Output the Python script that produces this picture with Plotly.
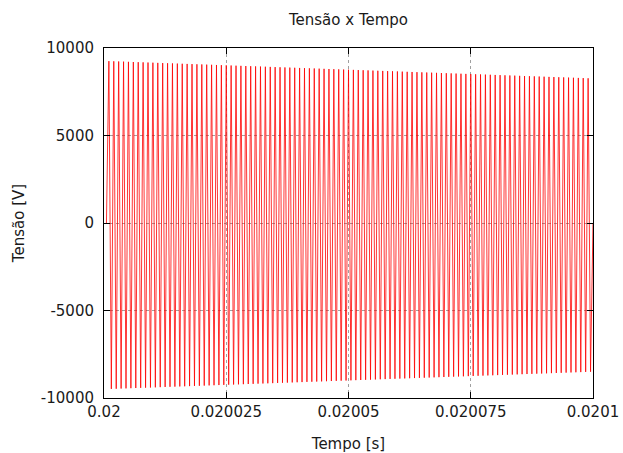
import plotly.graph_objects as go

# Sampled signal: start at t0, one sample every half microsecond
t0 = 0.0200005
dt = 0.5e-6

picos = [9250, 9240, 9230, 9220, 9210, 9200, 9190, 9180, 9170, 9160,
         9150, 9140, 9130, 9120, 9110, 9100, 9090, 9080, 9070, 9060,
         9050, 9040, 9030, 9020, 9010, 9000, 8990, 8980, 8970, 8960,
         8950, 8940, 8930, 8920, 8910, 8900, 8890, 8880, 8870, 8860,
         8850, 8840, 8830, 8820, 8810, 8800, 8790, 8780, 8770, 8760,
         8750, 8740, 8730, 8720, 8710, 8700, 8690, 8680, 8670, 8660,
         8650, 8640, 8630, 8620, 8610, 8600, 8590, 8580, 8570, 8560,
         8550, 8540, 8530, 8520, 8510, 8500, 8490, 8480, 8470, 8460,
         8450, 8440, 8430, 8420, 8410, 8400, 8390, 8380, 8370, 8360,
         8350, 8340, 8330, 8320, 8310, 8300, 8290, 8280, 8270]

vales = [-9480, -9470, -9460, -9450, -9440, -9430, -9420, -9410, -9400, -9390,
         -9380, -9370, -9360, -9350, -9340, -9330, -9320, -9310, -9300, -9290,
         -9280, -9270, -9260, -9250, -9240, -9230, -9220, -9210, -9200, -9190,
         -9180, -9170, -9160, -9150, -9140, -9130, -9120, -9110, -9100, -9090,
         -9080, -9070, -9060, -9050, -9040, -9030, -9020, -9010, -9000, -8990,
         -8980, -8970, -8960, -8950, -8940, -8930, -8920, -8910, -8900, -8890,
         -8880, -8870, -8860, -8850, -8840, -8830, -8820, -8810, -8800, -8790,
         -8780, -8770, -8760, -8750, -8740, -8730, -8720, -8710, -8700, -8690,
         -8680, -8670, -8660, -8650, -8640, -8630, -8620, -8610, -8600, -8590,
         -8580, -8570, -8560, -8550, -8540, -8530, -8520, -8510, -8500]

valor_inicial = 0
valor_final = 0

x_ticks = [0.02, 0.020025, 0.02005, 0.020075, 0.0201]
x_labels = ["0.02", "0.020025", "0.02005", "0.020075", "0.0201"]
y_ticks = [-10000, -5000, 0, 5000, 10000]
y_labels = ["-10000", "-5000", "0", "5000", "10000"]

tensao = [valor_inicial]
for p, v in zip(picos, vales):
    tensao.append(p)
    tensao.append(v)
tensao.append(valor_final)
tempo = [t0 + i * dt for i in range(len(tensao))]

FONT = "DejaVu Sans"
TXT = "#1a1a1a"
FS = 15

fig = go.Figure()
fig.add_trace(go.Scatter(x=tempo, y=tensao, mode="lines",
                         line=dict(color="#ff0000", width=0.8),
                         showlegend=False, hoverinfo="skip"))

fig.update_layout(
    width=623, height=453,
    margin=dict(l=104, r=30, t=48, b=55, autoexpand=False),
    paper_bgcolor="white", plot_bgcolor="white",
    font=dict(family=FONT, size=FS, color=TXT),
    title=dict(text="Tensão x Tempo", x=0.5, xref="paper",
               y=1 - 20 / 453, yref="container", yanchor="middle",
               xanchor="center", font=dict(size=FS, color=TXT)),
)
fig.update_xaxes(
    range=[0.02, 0.0201], tickvals=x_ticks, ticktext=x_labels,
    showline=True, linecolor="black", linewidth=1, mirror="ticks",
    ticks="inside", ticklen=6, tickcolor="black",
    showgrid=True, gridcolor="#a0a0a0", griddash="dot", gridwidth=1,
    zeroline=False, automargin=False,
    title=dict(text="Tempo [s]", standoff=18, font=dict(size=FS)),
    tickfont=dict(size=FS),
)
fig.update_yaxes(
    range=[-10000, 10000], tickvals=y_ticks, ticktext=y_labels,
    showline=True, linecolor="black", linewidth=1, mirror="ticks",
    ticks="inside", ticklen=6, tickcolor="black",
    showgrid=True, gridcolor="#a0a0a0", griddash="dot", gridwidth=1,
    zeroline=False, automargin=False, ticklabelstandoff=6,
    title=dict(text="Tensão [V]", standoff=12, font=dict(size=FS)),
    tickfont=dict(size=FS),
)

fig.write_html("out.html")
